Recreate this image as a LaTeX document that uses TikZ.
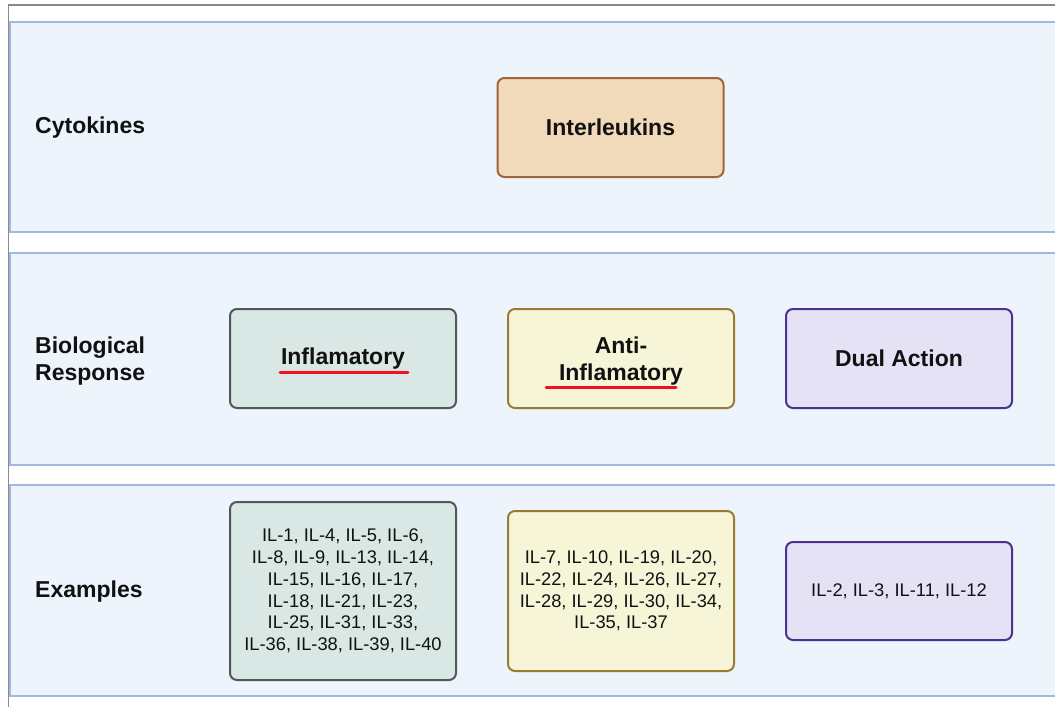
\documentclass[tikz,border=0pt]{standalone}
\usepackage{fontspec}
\setmainfont{Liberation Sans}
\definecolor{bandfill}{HTML}{EDF4FC}
\definecolor{bandline}{HTML}{A3B8DE}
\definecolor{frameline}{HTML}{8A8A8A}
\definecolor{ilfill}{HTML}{F0DABA}
\definecolor{illine}{HTML}{A0643C}
\definecolor{inffill}{HTML}{D9E8E4}
\definecolor{infline}{HTML}{4F5A58}
\definecolor{antifill}{HTML}{F6F5D8}
\definecolor{antiline}{HTML}{9A7B32}
\definecolor{dualfill}{HTML}{E6E2F6}
\definecolor{dualline}{HTML}{4B3290}
\definecolor{txt}{HTML}{111111}
\definecolor{squig}{HTML}{F01020}
\begin{document}
\begin{tikzpicture}[x=1pt,y=-1pt,
  band/.style={fill=bandfill,draw=bandline,line width=2pt},
  box/.style={rounded corners=7pt,line width=2pt,minimum width=226pt,inner sep=0pt,align=center,text=txt},
  head/.style={font=\fontsize{23}{27}\selectfont\bfseries},
  small/.style={font=\fontsize{18.3}{21.7}\selectfont},
  rowlabel/.style={anchor=west,align=left,text=txt,font=\fontsize{23}{27}\selectfont\bfseries,inner sep=0pt},
  redline/.style={draw=squig,line width=3pt,line cap=round}]
\useasboundingbox (0,0) rectangle (1055,707);
\fill[white] (0,0) rectangle (1055,707);
% frame
\draw[frameline,line width=1.5pt] (1055,5) -- (8.5,5) -- (8.5,707);
% bands
\fill[bandfill] (10,21.5) rectangle (1055,232);
\draw[bandline,line width=2pt] (1055,21.5) -- (10,21.5) -- (10,232) -- (1055,232);
\fill[bandfill] (10,253) rectangle (1055,465);
\draw[bandline,line width=2pt] (1055,253) -- (10,253) -- (10,465) -- (1055,465);
\fill[bandfill] (10,485) rectangle (1055,696);
\draw[bandline,line width=2pt] (1055,485) -- (10,485) -- (10,696) -- (1055,696);
% row labels
\node[rowlabel] (lcyto) at (35,128) {Cytokines};
\node[rowlabel] (lbio) at (35,361) {Biological\\Response};
\node[rowlabel] (lex) at (35,592) {Examples};
% boxes
\node[box,head,fill=ilfill,draw=illine,minimum height=99pt] (il) at (610.5,127.5) {Interleukins};
\node[box,head,fill=inffill,draw=infline,minimum height=99pt] (inf) at (343,358.5) {Inflamatory};
\node[box,fill=antifill,draw=antiline,minimum height=99pt] (anti) at (621,358.5) {};
\node[head,align=center,text=txt,inner sep=0pt] (antitxt) at (621,361.5) {Anti-\\Inflamatory};
\node[box,head,fill=dualfill,draw=dualline,minimum height=99pt] (dual) at (899,358.5) {Dual Action};
\node[box,small,fill=inffill,draw=infline,minimum height=178pt] (infex) at (343,591) {IL-1, IL-4, IL-5, IL-6,\\IL-8, IL-9, IL-13, IL-14,\\IL-15, IL-16, IL-17,\\IL-18, IL-21, IL-23,\\IL-25, IL-31, IL-33,\\IL-36, IL-38, IL-39, IL-40};
\node[box,small,fill=antifill,draw=antiline,minimum height=160pt] (antiex) at (621,591) {IL-7, IL-10, IL-19, IL-20,\\IL-22, IL-24, IL-26, IL-27,\\IL-28, IL-29, IL-30, IL-34,\\IL-35, IL-37};
\node[box,small,fill=dualfill,draw=dualline,minimum height=98pt] (dualex) at (899,591) {IL-2, IL-3, IL-11, IL-12};
% spell-check underlines
\coordinate (u1a) at (280,372);
\coordinate (u1b) at (408,372);
\coordinate (u2a) at (546,387);
\coordinate (u2b) at (676,387);
\draw[redline] (u1a) -- (u1b);
\draw[redline] (u2a) -- (u2b);
\end{tikzpicture}
\end{document}
